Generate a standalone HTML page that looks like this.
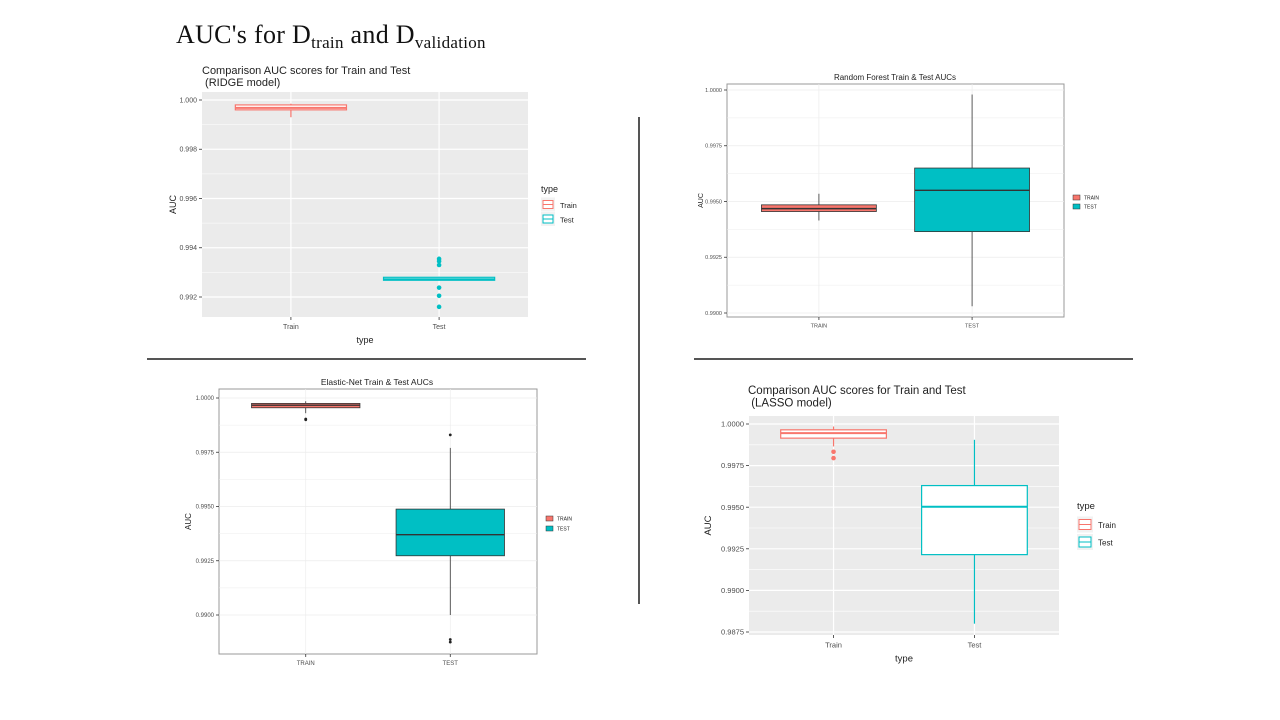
<!DOCTYPE html>
<html><head><meta charset="utf-8">
<style>
body{margin:0;background:#fff;width:1280px;height:720px;overflow:hidden;position:relative;font-family:"Liberation Sans",sans-serif}
#title{position:absolute;left:176px;top:20px;font-family:"Liberation Serif",serif;font-size:26px;color:#111;white-space:nowrap;letter-spacing:0.3px}
#title sub{font-size:17px;vertical-align:-5px}
.rule{position:absolute;background:#555}
svg{position:absolute;left:0;top:0}
</style></head>
<body>
<div id="title">AUC's for D<sub>train</sub> and D<sub>validation</sub></div>
<div class="rule" style="left:147px;top:358px;width:439px;height:2px"></div>
<div class="rule" style="left:694px;top:358px;width:439px;height:2px"></div>
<div class="rule" style="left:638px;top:117px;width:2px;height:487px"></div>
<svg id="s" width="1280" height="720"></svg>
<script>
// Ridge
const ridgeCats=["Train","Test"];
const ridgeQ1=[0.99960,0.99268];
const ridgeMed=[0.99968,0.99272];
const ridgeQ3=[0.99980,0.99280];
const ridgeLo=[0.99930,0.99268];
const ridgeHi=[0.99985,0.99282];
const ridgeOut=[[],[0.99355,0.99345,0.99330,0.99238,0.99205,0.99160]];
const ridgeTicks=[1.000,0.998,0.996,0.994,0.992];
const ridgeTickLabels=["1.000","0.998","0.996","0.994","0.992"];
// Random forest
const rfCats=["TRAIN","TEST"];
const rfQ1=[0.99455,0.99365];
const rfMed=[0.99468,0.99550];
const rfQ3=[0.99485,0.99650];
const rfLo=[0.99415,0.99030];
const rfHi=[0.99535,0.99980];
const rfOut=[[],[]];
const rfTicks=[1.0,0.9975,0.995,0.9925,0.99];
const rfTickLabels=["1.0000","0.9975","0.9950","0.9925","0.9900"];
// Elastic net
const enCats=["TRAIN","TEST"];
const enQ1=[0.99955,0.99273];
const enMed=[0.99967,0.99370];
const enQ3=[0.99975,0.99488];
const enLo=[0.99930,0.99000];
const enHi=[0.99985,0.99770];
const enOut=[[0.99900,0.99903],[0.99830,0.98887,0.98875]];
const enTicks=[1.0,0.9975,0.995,0.9925,0.99];
const enTickLabels=["1.0000","0.9975","0.9950","0.9925","0.9900"];
// Lasso
const laCats=["Train","Test"];
const laQ1=[0.99915,0.99215];
const laMed=[0.99945,0.99503];
const laQ3=[0.99965,0.99630];
const laLo=[0.99865,0.98800];
const laHi=[0.99985,0.99905];
const laOut=[[0.99833,0.99795],[]];
const laTicks=[1.0,0.9975,0.995,0.9925,0.99,0.9875];
const laTickLabels=["1.0000","0.9975","0.9950","0.9925","0.9900","0.9875"];

const NS="http://www.w3.org/2000/svg";
const svg=document.getElementById('s');
function mk(tag,attrs,parent,txt){const e=document.createElementNS(NS,tag);for(const k in attrs)e.setAttribute(k,attrs[k]);if(txt!==undefined)e.textContent=txt;(parent||svg).appendChild(e);return e;}
const COLS=["#F8766D","#00BFC4"];

function draw(c){
  const g=mk('g',{});
  
  
  const y=v=>c.ya+(v-c.va)*(c.yb-c.ya)/(c.vb-c.va);
  const unit=(c.x1-c.x0)/2.2;
  const xs=c.cats.map((_,i)=>c.x0+unit*(0.6+i));
  const bw=unit*0.75;
  const p=mk('rect',{x:c.x0,y:c.y0,width:c.x1-c.x0,height:c.y1-c.y0,fill:c.gg?'#ebebeb':'#fff',stroke:c.gg?'none':'#999','stroke-width':1},g);
  
  const gc=c.gg?'#fff':'#ececec';
  for(let i=0;i<c.ticks.length-1;i++){const v=(c.ticks[i]+c.ticks[i+1])/2;mk('line',{x1:c.x0,x2:c.x1,y1:y(v),y2:y(v),stroke:gc,'stroke-width':c.gg?0.6:0.5},g);}
  if(c.minorExtra){const v=c.ticks[c.ticks.length-1]-(c.ticks[0]-c.ticks[1])/2;if(y(v)<c.y1)mk('line',{x1:c.x0,x2:c.x1,y1:y(v),y2:y(v),stroke:gc,'stroke-width':0.6},g);}
  c.ticks.forEach((t,i)=>{
    mk('line',{x1:c.x0,x2:c.x1,y1:y(t),y2:y(t),stroke:gc,'stroke-width':c.gg?1.2:0.7},g);
    mk('line',{x1:c.x0-3,x2:c.x0,y1:y(t),y2:y(t),stroke:'#333','stroke-width':0.8},g);
    const tl=mk('text',{x:c.x0-5,y:y(t)+c.tf*0.35,'font-size':c.tf,fill:'#4d4d4d','text-anchor':'end'},g,c.labels[i]);
    
  });
  xs.forEach((x,i)=>{
    mk('line',{x1:x,x2:x,y1:c.y0,y2:c.y1,stroke:gc,'stroke-width':c.gg?1.2:0.7},g);
    mk('line',{x1:x,x2:x,y1:c.y1,y2:c.y1+3,stroke:'#333','stroke-width':0.8},g);
    const xl=mk('text',{x:x,y:c.y1+c.tf+5,'font-size':c.tf,fill:'#4d4d4d','text-anchor':'middle'},g,c.cats[i]);
    
  });
  xs.forEach((x,i)=>{
    const col=c.gg?COLS[i]:'#333';
    const bg=mk('g',{},g);
    
    
    mk('line',{x1:x,x2:x,y1:y(c.hi[i]),y2:y(c.q3[i]),stroke:col,'stroke-width':c.gg?1.2:0.8},bg);
    mk('line',{x1:x,x2:x,y1:y(c.q1[i]),y2:y(c.lo[i]),stroke:col,'stroke-width':c.gg?1.2:0.8},bg);
    mk('rect',{x:x-bw/2,y:y(c.q3[i]),width:bw,height:Math.max(1,y(c.q1[i])-y(c.q3[i])),fill:c.gg?'#fff':COLS[i],stroke:col,'stroke-width':c.gg?1.2:0.8},bg);
    mk('line',{x1:x-bw/2,x2:x+bw/2,y1:y(c.med[i]),y2:y(c.med[i]),stroke:col,'stroke-width':c.gg?2:1.4},bg);
    c.out[i].forEach(v=>mk('circle',{cx:x,cy:y(v),r:c.gg?2.3:1.4,fill:c.gg?COLS[i]:'#222'},bg));
  });
  c.title.forEach((t,i)=>{const e=mk('text',{x:c.tx,y:c.ty+i*(c.tsz+1),'font-size':c.tsz,fill:'#222','text-anchor':c.tanchor},g,t);});
  const yt=mk('text',{x:0,y:0,'font-size':c.af,fill:'#222','text-anchor':'middle',transform:`translate(${c.ytx},${(c.y0+c.y1)/2}) rotate(-90)`},g,'AUC');
  
  if(c.gg){const xt=mk('text',{x:(c.x0+c.x1)/2,y:c.y1+c.tf+19,'font-size':c.af,fill:'#222','text-anchor':'middle'},g,'type');}
  const lg=mk('g',{},g);
  
  
  if(c.gg){
    mk('text',{x:c.lx,y:c.ly,'font-size':c.af,fill:'#222'},lg,'type');
    c.cats.forEach((n,i)=>{
      const yy=c.ly+c.lstep*(i+1);
      const ke=mk('g',{},lg);
      
      
      mk('rect',{x:c.lx,y:yy-c.lk/2-3,width:c.lk+2,height:c.lk+2,fill:'#f2f2f2'},ke);
      mk('rect',{x:c.lx+2,y:yy-c.lk/2,width:c.lk-2,height:c.lk-4,fill:'#fff',stroke:COLS[i],'stroke-width':1},ke);
      mk('line',{x1:c.lx+2,x2:c.lx+c.lk,y1:yy-2,y2:yy-2,stroke:COLS[i],'stroke-width':1},ke);
      mk('text',{x:c.lx+c.lk+7,y:yy+c.tf*0.35-1,'font-size':c.tf+0.5,fill:'#222'},ke,n);
    });
  } else {
    c.cats.forEach((n,i)=>{
      const yy=c.ly+c.lstep*i;
      const ke=mk('g',{},lg);
      
      
      mk('rect',{x:c.lx,y:yy-2.5,width:7,height:5,fill:COLS[i],stroke:'#333','stroke-width':0.5},ke);
      mk('text',{x:c.lx+11,y:yy+1.8,'font-size':5,fill:'#222'},ke,n);
    });
  }
}

draw({name:'ridge-chart',gg:true,x0:202,x1:528,y0:92,y1:317,ya:100,yb:297,va:1.000,vb:0.992,
  ticks:ridgeTicks,labels:ridgeTickLabels,cats:ridgeCats,q1:ridgeQ1,med:ridgeMed,q3:ridgeQ3,lo:ridgeLo,hi:ridgeHi,out:ridgeOut,
  tf:7,af:9,title:['Comparison AUC scores for Train and Test','\u00a0(RIDGE model)'],tx:202,ty:74,tsz:11,tanchor:'start',ytx:176,lx:541,ly:192,lstep:14.5,lk:12});
draw({name:'random-forest-chart',gg:false,x0:727,x1:1064,y0:84,y1:317,ya:90,yb:313,va:1.0,vb:0.99,
  ticks:rfTicks,labels:rfTickLabels,cats:rfCats,q1:rfQ1,med:rfMed,q3:rfQ3,lo:rfLo,hi:rfHi,out:rfOut,
  tf:5.5,af:7,title:['Random Forest Train & Test AUCs'],tx:895,ty:80,tsz:8,tanchor:'middle',ytx:703,lx:1073,ly:197.5,lstep:9});
draw({name:'elastic-net-chart',gg:false,x0:219,x1:537,y0:389,y1:654,ya:398,yb:615,va:1.0,vb:0.99,
  ticks:enTicks,labels:enTickLabels,cats:enCats,q1:enQ1,med:enMed,q3:enQ3,lo:enLo,hi:enHi,out:enOut,
  tf:6,af:8,title:['Elastic-Net Train & Test AUCs'],tx:377,ty:385,tsz:8.5,tanchor:'middle',ytx:191,lx:546,ly:518.5,lstep:10});
draw({name:'lasso-chart',gg:true,minorExtra:true,x0:749,x1:1059,y0:416,y1:635,ya:424,yb:632,va:1.0,vb:0.9875,
  ticks:laTicks,labels:laTickLabels,cats:laCats,q1:laQ1,med:laMed,q3:laQ3,lo:laLo,hi:laHi,out:laOut,
  tf:7.5,af:9.5,title:['Comparison AUC scores for Train and Test','\u00a0(LASSO model)'],tx:748,ty:394,tsz:11.5,tanchor:'start',ytx:711,lx:1077,ly:509,lstep:17.5,lk:14});
</script>
</body></html>
